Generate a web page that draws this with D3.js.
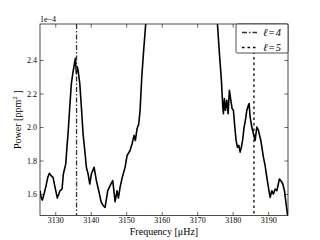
<!DOCTYPE html>
<html>
<head>
<meta charset="utf-8">
<script src="https://cdn.jsdelivr.net/npm/d3@7/dist/d3.min.js"></script>
<style>
  body { margin: 0; background: #fff; }
  svg text { font-family: "Liberation Serif", "DejaVu Serif", serif; fill: #000; }
</style>
</head>
<body>
<div id="chart-area"><svg></svg></div>
<script>
// spectrum (power in units of 1e-4 ppm^2)
const frequency = [
	3125.71, 3126.0, 3126.36, 3126.84, 3127.41, 3127.9, 3128.34, 3128.82, 3129.38, 3129.94,
	3130.59, 3131.0, 3131.35, 3131.92, 3132.28, 3132.96, 3133.3, 3133.61, 3134.09, 3134.54,
	3135.02, 3135.5, 3135.67, 3135.95, 3136.2, 3136.43, 3136.91, 3137.36, 3137.84, 3138.32,
	3138.77, 3139.25, 3139.73, 3140.18, 3140.94, 3141.59, 3142.26, 3142.91, 3143.56, 3144.04,
	3144.8, 3145.45, 3146.21, 3146.86, 3147.42, 3147.79, 3148.27, 3148.83, 3149.68, 3150.24,
	3151.09, 3151.65, 3152.22, 3152.58, 3153.06, 3153.54, 3153.91, 3154.39, 3154.89, 3155.51,
	3156.5, 3158.0, 3162.0, 3166.0, 3170.0, 3173.5,
	3175.7, 3176.26, 3176.83, 3177.22, 3177.39, 3177.67, 3177.96, 3178.35, 3178.72, 3179.08,
	3179.48, 3179.85, 3180.21, 3180.61, 3180.97, 3181.34, 3181.73, 3182.1, 3182.47, 3182.86,
	3183.23, 3183.59, 3183.99, 3184.44, 3184.64, 3184.92, 3185.4, 3185.85, 3186.33, 3186.81,
	3187.26, 3187.94, 3188.67, 3189.15, 3189.63, 3190.08, 3190.56, 3191.04, 3191.49, 3191.97,
	3192.45, 3193.18, 3193.58, 3194.14, 3194.6, 3195.08, 3195.55
];
const power = [
	1.62, 1.58, 1.564, 1.6, 1.65, 1.7, 1.724, 1.71, 1.7, 1.64,
	1.576, 1.6, 1.62, 1.63, 1.72, 1.78, 1.88, 1.962, 2.12, 2.26,
	2.33, 2.39, 2.41, 2.32, 2.36, 2.34, 2.26, 2.12, 1.96, 1.86,
	1.76, 1.72, 1.66, 1.72, 1.76, 1.68, 1.62, 1.554, 1.53, 1.52,
	1.62, 1.65, 1.68, 1.554, 1.62, 1.576, 1.64, 1.695, 1.76, 1.83,
	1.86, 1.9, 1.95, 1.92, 1.99, 2.02, 2.1, 2.3, 2.45, 2.62,
	2.95, 3.3, 3.5, 3.4, 3.2, 2.95,
	2.62, 2.44, 2.28, 2.12, 2.08, 2.17, 2.1, 2.16, 2.08, 2.22,
	2.16, 2.11, 2.1, 2.0, 1.92, 1.88, 1.89, 1.85, 1.88, 1.93,
	2.0, 2.04, 2.1, 2.13, 2.14, 2.06, 2.0, 1.96, 1.92, 2.0,
	1.98, 1.92, 1.82, 1.77, 1.7, 1.64, 1.58, 1.62, 1.6, 1.63,
	1.62, 1.69, 1.68, 1.66, 1.62, 1.54, 1.46
];
const xTicks = [3130, 3140, 3150, 3160, 3170, 3180, 3190];
const yTicks = [1.6, 1.8, 2.0, 2.2, 2.4];
const modes = ["\u2113=4", "\u2113=5"];
const modeFrequency = [3136, 3186];
const modeDash = ["5,2,1.5,2", "2.5,3"];

const chartSize = { width: 320, height: 240 };
const margin = { left: 40, right: 32, top: 24, bottom: 24.5 };
const width = chartSize.width - margin.left - margin.right;
const height = chartSize.height - margin.top - margin.bottom;
const serif = "Liberation Serif, DejaVu Serif, serif";

const drawChart = () => {
	const svg = d3
		.select("#chart-area svg")
		.attr("width", chartSize.width)
		.attr("height", chartSize.height);

	const x = d3.scaleLinear().domain([3125.7, 3195.6]).range([0, width]);
	const y = d3.scaleLinear().domain([1.472, 2.615]).range([height, 0]);

	const g = svg
		.append("g")
		.attr("transform", `translate(${margin.left},${margin.top})`);

	g.append("clipPath")
		.attr("id", "plot-clip")
		.append("rect")
		.attr("width", width)
		.attr("height", height);

	const plot = g.append("g").attr("clip-path", "url(#plot-clip)");

	const line = d3
		.line()
		.x((d, i) => x(frequency[i]))
		.y(d => y(d));

	plot.append("path")
		.datum(power)
		.attr("fill", "none")
		.attr("stroke", "#000")
		.attr("stroke-width", 1.6)
		.attr("stroke-linejoin", "round")
		.attr("d", line);

	plot.selectAll(".mode")
		.data(modeFrequency)
		.enter()
		.append("line")
		.attr("class", "mode")
		.attr("x1", d => x(d))
		.attr("x2", d => x(d))
		.attr("y1", 0)
		.attr("y2", height)
		.attr("stroke", (d, i) => (i === 0 ? "#333" : "#000"))
		.attr("stroke-width", 1.3)
		.attr("stroke-dasharray", (d, i) => modeDash[i]);

	// matplotlib style ticks: inward, on all four sides
	const axisStyle = a => {
		a.attr("font-family", serif).attr("font-size", 8);
		a.select(".domain").remove();
		a.selectAll(".tick line").attr("stroke", "#000").attr("stroke-width", 0.6);
	};

	g.append("g")
		.attr("transform", `translate(0,${height})`)
		.call(d3.axisBottom(x).tickValues(xTicks).tickSize(-3.5).tickPadding(2).tickFormat(d3.format("d")))
		.call(axisStyle);
	g.append("g")
		.call(d3.axisTop(x).tickValues(xTicks).tickSize(-3.5).tickFormat(""))
		.call(axisStyle);
	g.append("g")
		.call(d3.axisLeft(y).tickValues(yTicks).tickSize(-3.5).tickPadding(3).tickFormat(d3.format(".1f")))
		.call(axisStyle);
	g.append("g")
		.attr("transform", `translate(${width},0)`)
		.call(d3.axisRight(y).tickValues(yTicks).tickSize(-3.5).tickFormat(""))
		.call(axisStyle);

	g.append("rect")
		.attr("width", width)
		.attr("height", height)
		.attr("fill", "none")
		.attr("stroke", "#000")
		.attr("stroke-width", 0.7);

	g.append("text")
		.attr("x", 0)
		.attr("y", -2)
		.attr("font-size", "8px")
		.text("1e\u22124");

	g.append("text")
		.attr("x", width / 2)
		.attr("y", height + 19)
		.attr("text-anchor", "middle")
		.attr("font-size", "10px")
		.text("Frequency [\u03bcHz]");

	const yLabel = g.append("text")
		.attr("transform", `translate(-19,${height / 2}) rotate(-90)`)
		.attr("text-anchor", "middle")
		.attr("font-size", "10px");
	yLabel.append("tspan").text("Power [ppm");
	yLabel.append("tspan").attr("dy", -4).attr("font-size", "7px").text("2");
	yLabel.append("tspan").attr("dy", 4).text(" ]");

	// legend
	const legend = g.append("g").attr("transform", `translate(${width - 52},0)`);
	legend.append("rect")
		.attr("width", 52)
		.attr("height", 29)
		.attr("rx", 1.5)
		.attr("fill", "#fff")
		.attr("stroke", "#000")
		.attr("stroke-width", 0.7);
	const item = legend
		.selectAll(".item")
		.data(modes)
		.enter()
		.append("g")
		.attr("transform", (d, i) => `translate(0,${8.5 + i * 15})`);
	item.append("line")
		.attr("x1", 6)
		.attr("x2", 21)
		.attr("stroke", (d, i) => (i === 0 ? "#333" : "#000"))
		.attr("stroke-width", 1.3)
		.attr("stroke-dasharray", (d, i) => modeDash[i]);
	item.append("text")
		.attr("x", 27)
		.attr("dy", "0.35em")
		.attr("font-size", "10.5px")
		.attr("font-style", "italic")
		.attr("letter-spacing", "0.6px")
		.text(d => d);
};

window.onload = drawChart;
</script>
</body>
</html>
